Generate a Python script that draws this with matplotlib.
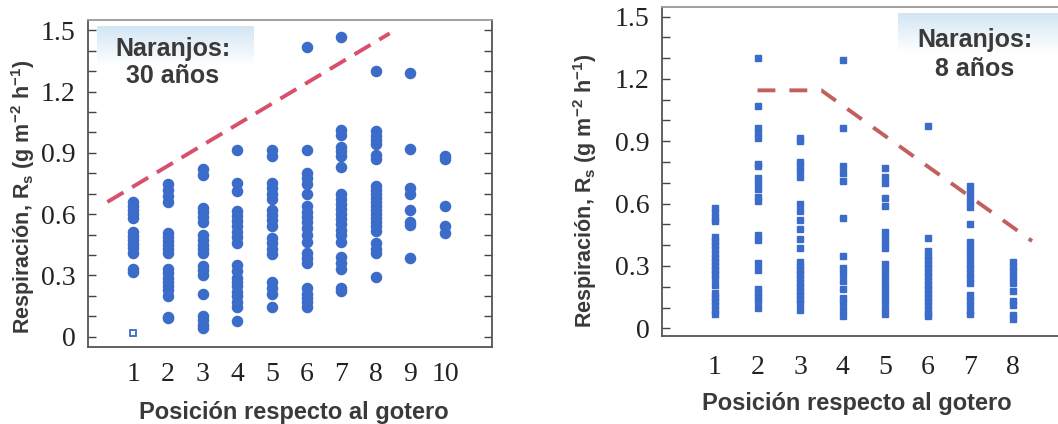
import matplotlib
matplotlib.use("Agg")
import matplotlib.pyplot as plt
import numpy as np
from matplotlib.colors import LinearSegmentedColormap
from matplotlib.ticker import FixedLocator, MultipleLocator

plt.rcParams['mathtext.fontset'] = 'custom'
plt.rcParams['mathtext.rm'] = 'Liberation Sans:bold'
plt.rcParams['mathtext.it'] = 'Liberation Sans:bold'
plt.rcParams['mathtext.default'] = 'rm'

# respiration per position, 30-year orchard
old_pos = list(range(1, 11))
old_vals = [
    [0.66, 0.64, 0.62, 0.60, 0.58, 0.515, 0.495, 0.475, 0.455, 0.435, 0.41, 0.33, 0.315],
    [0.75, 0.72, 0.69, 0.66, 0.51, 0.49, 0.47, 0.45, 0.43, 0.41, 0.33, 0.31, 0.29, 0.27,
     0.25, 0.23, 0.20, 0.095, 0.09],
    [0.82, 0.79, 0.63, 0.61, 0.585, 0.56, 0.50, 0.475, 0.45, 0.43, 0.41, 0.345, 0.325,
     0.30, 0.21, 0.10, 0.08, 0.06, 0.045],
    [0.915, 0.755, 0.715, 0.615, 0.59, 0.565, 0.54, 0.515, 0.49, 0.46, 0.35, 0.32, 0.29,
     0.27, 0.25, 0.22, 0.20, 0.17, 0.145, 0.075],
    [0.915, 0.885, 0.755, 0.73, 0.70, 0.675, 0.62, 0.595, 0.57, 0.54, 0.485, 0.46, 0.43,
     0.405, 0.27, 0.24, 0.21, 0.145],
    [1.42, 0.915, 0.80, 0.775, 0.75, 0.70, 0.64, 0.61, 0.585, 0.56, 0.53, 0.50, 0.465,
     0.41, 0.385, 0.36, 0.24, 0.21, 0.19, 0.17, 0.145],
    [1.465, 1.01, 0.99, 0.93, 0.91, 0.885, 0.83, 0.70, 0.675, 0.65, 0.625, 0.60, 0.575,
     0.55, 0.525, 0.50, 0.465, 0.39, 0.36, 0.33, 0.24, 0.225],
    [1.30, 1.005, 0.985, 0.965, 0.945, 0.89, 0.87, 0.74, 0.72, 0.70, 0.68, 0.66, 0.64,
     0.62, 0.60, 0.58, 0.56, 0.54, 0.52, 0.46, 0.43, 0.41, 0.295],
    [1.29, 0.92, 0.73, 0.70, 0.62, 0.56, 0.545, 0.385],
    [0.885, 0.87, 0.64, 0.54, 0.51],
]
old_outlier = (1, 0.02)
old_trend_x = [0.25, 8.4]
old_trend_y = [0.66, 1.485]

# respiration per position, 8-year orchard
young_pos = list(range(1, 9))
young_vals = [
    [0.58, 0.555, 0.53, 0.515, 0.44, 0.42, 0.40, 0.38, 0.36, 0.34, 0.32, 0.30, 0.28,
     0.26, 0.24, 0.21, 0.17, 0.15, 0.13, 0.11, 0.09, 0.07],
    [1.30, 1.07, 0.965, 0.94, 0.915, 0.79, 0.78, 0.725, 0.70, 0.67, 0.63, 0.615, 0.45,
     0.425, 0.315, 0.28, 0.19, 0.17, 0.15, 0.13, 0.10],
    [0.915, 0.90, 0.80, 0.78, 0.755, 0.73, 0.60, 0.565, 0.52, 0.48, 0.43, 0.385, 0.32,
     0.30, 0.28, 0.26, 0.24, 0.22, 0.20, 0.18, 0.16, 0.14, 0.12, 0.09],
    [1.29, 0.965, 0.78, 0.745, 0.71, 0.53, 0.35, 0.29, 0.26, 0.23, 0.19, 0.145, 0.12,
     0.09, 0.06],
    [0.77, 0.73, 0.70, 0.625, 0.59, 0.465, 0.44, 0.41, 0.385, 0.31, 0.28, 0.25, 0.22,
     0.19, 0.16, 0.13, 0.10, 0.07],
    [0.975, 0.435, 0.37, 0.35, 0.33, 0.31, 0.29, 0.27, 0.25, 0.23, 0.21, 0.19, 0.17,
     0.15, 0.13, 0.11, 0.09, 0.07, 0.06],
    [0.685, 0.66, 0.635, 0.61, 0.585, 0.50, 0.415, 0.39, 0.365, 0.34, 0.315, 0.29, 0.265,
     0.24, 0.22, 0.16, 0.135, 0.11, 0.085, 0.07],
    [0.32, 0.295, 0.27, 0.245, 0.22, 0.18, 0.13, 0.11, 0.065, 0.045],
]
young_trend_x = [2.0, 3.5, 8.45]
young_trend_y = [1.145, 1.145, 0.42]

y_ticks = [0, 0.3, 0.6, 0.9, 1.2, 1.5]
y_ticklabels = ['0', '0.3', '0.6', '0.9', '1.2', '1.5']

blue = '#3b6cc9'
txt_col = '#3a3a3a'
ylab = 'Respiración, R$_{s}$ (g m$^{-2}$ h$^{-1}$)'
xlab = 'Posición respecto al gotero'
sans = 'Liberation Sans'

fig = plt.figure(figsize=(10.58, 4.24), dpi=100)
ax1 = fig.add_axes([0.0832, 0.1816, 0.382, 0.771])
ax2 = fig.add_axes([0.6257, 0.2075, 0.392, 0.775])

sky = LinearSegmentedColormap.from_list('sky', ['#ffffff', '#d3e6f4'])


def style_axes(ax, positions, ylim, xlim, xpad):
    ax.set_xlim(*xlim)
    ax.set_ylim(*ylim)
    ax.yaxis.set_major_locator(FixedLocator(y_ticks))
    ax.set_yticklabels(y_ticklabels)
    ax.yaxis.set_minor_locator(MultipleLocator(0.1))
    ax.set_xticks(positions)
    ax.set_xticklabels([str(p) for p in positions])
    ax.tick_params(axis='y', which='both', direction='in', left=True, right=True,
                   length=6, width=1, color='#444444', pad=9,
                   labelsize=20, labelcolor='#222222')
    ax.tick_params(axis='x', length=0, pad=xpad, labelsize=20, labelcolor='#222222')
    for lab in ax.get_xticklabels() + ax.get_yticklabels():
        lab.set_fontfamily('Liberation Serif')
    for sp in ax.spines.values():
        sp.set_color('#555555')
        sp.set_linewidth(1.3)
    ax.spines['top'].set_color('#999999')


def add_badge(ax, x0, x1, y0, y1, head, tail, tx, ty_head, ty_tail):
    grad = np.linspace(0, 1, 64).reshape(-1, 1)
    ax.imshow(grad, cmap=sky, extent=[x0, x1, y0, y1], origin='lower',
              transform=ax.transAxes, aspect='auto', zorder=1)
    for s, ty in ((head, ty_head), (tail, ty_tail)):
        ax.text(tx, ty, s, transform=ax.transAxes, ha='center', va='center',
                fontsize=18, fontweight='bold', color=txt_col, family=sans, zorder=2)


def label_axes(ax, ylab_xy, xlab_xy):
    ax.set_ylabel(ylab, fontsize=15.5, fontweight='bold', color=txt_col, family=sans,
                  va='center')
    ax.yaxis.set_label_coords(*ylab_xy)
    ax.set_xlabel(xlab, fontsize=17, fontweight='bold', color=txt_col, family=sans,
                  va='center')
    ax.xaxis.set_label_coords(*xlab_xy)


# 30-year panel
style_axes(ax1, old_pos, (-0.05, 1.55), (-0.31, 11.36), 11)
add_badge(ax1, 0.022, 0.408, 0.86, 0.98, 'Naranjos:', '30 años', 0.21, 0.913, 0.828)
for p, vals in zip(old_pos, old_vals):
    ax1.plot([p] * len(vals), vals, 'o', ms=7.3, color=blue, mec=blue, zorder=3)
ax1.plot(*old_outlier, 's', ms=4.5, mfc='white', mec=blue, mew=1.3, zorder=3)
ax1.plot(old_trend_x, old_trend_y, color='#d9506c', lw=2.8, dashes=(4.8, 2.6), zorder=4)
label_axes(ax1, (-0.161, 0.459), (0.509, -0.199))

# 8-year panel
style_axes(ax2, young_pos, (-0.037, 1.544), (-0.244, 9.5), 14)
add_badge(ax2, 0.57, 1.0, 0.86, 0.98, 'Naranjos:', '8 años', 0.755, 0.9, 0.812)
for p, vals in zip(young_pos, young_vals):
    ax2.plot([p] * len(vals), vals, 's', ms=4.6, color=blue, mec=blue, zorder=3)
ax2.plot(young_trend_x, young_trend_y, color='#c2605e', lw=2.8, dashes=(4.6, 3.6), zorder=4)
label_axes(ax2, (-0.186, 0.441), (0.47, -0.204))

fig.savefig('out.png', dpi=100)
